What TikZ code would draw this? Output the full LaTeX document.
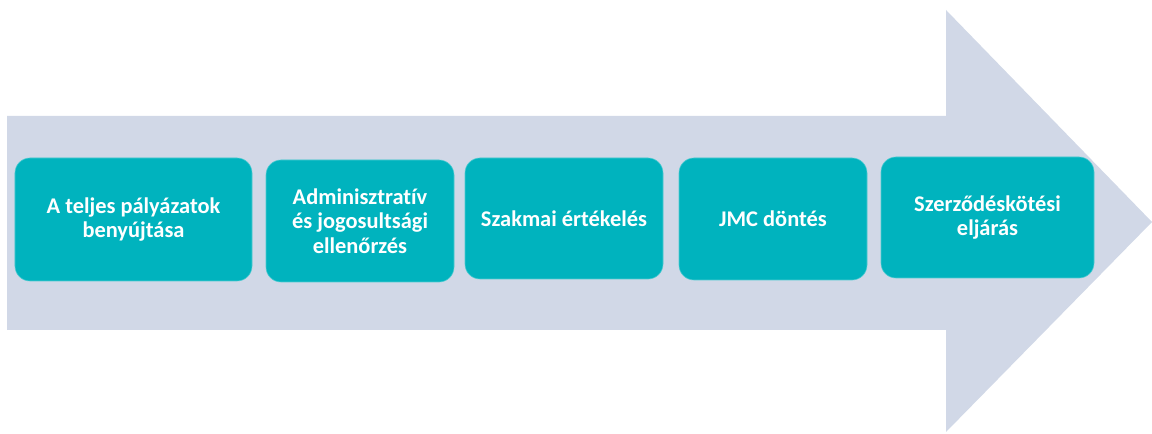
\documentclass[tikz,border=0pt]{standalone}
\usepackage{fontspec}
\setmainfont{Carlito}[Ligatures=NoCommon]
\definecolor{arrowbg}{HTML}{D1D8E7}
\definecolor{tealbox}{HTML}{00B3BE}
\begin{document}
\begin{tikzpicture}[x=1bp,y=-1bp,
  stepbox/.style={fill=tealbox,draw=tealbox!70!white,line width=0.6bp,rounded corners=15bp,
    text=white,font=\bfseries\fontsize{22.5}{24.5}\selectfont,align=center,inner sep=0pt},
]
\useasboundingbox (0,0) rectangle (1152,434);
\fill[arrowbg] (7,116) -- (946,116) -- (946,10) -- (1152,222) -- (946,432) -- (946,330) -- (7,330) -- cycle;
\node[stepbox,minimum width=237bp,minimum height=123bp] (b1) at (133.5,219.5) {A teljes pályázatok\\benyújtása};
\node[stepbox,minimum width=188bp,minimum height=122bp] (b2) at (360,221) {Adminisztratív\\és jogosultsági\\ellenőrzés};
\node[stepbox,minimum width=198bp,minimum height=121bp] (b3) at (564,218.5) {Szakmai értékelés};
\node[stepbox,minimum width=188bp,minimum height=122bp] (b4) at (773,219) {JMC döntés};
\node[stepbox,minimum width=213bp,minimum height=121bp] (b5) at (987.5,217.5) {Szerződéskötési\\eljárás};
\end{tikzpicture}
\end{document}
